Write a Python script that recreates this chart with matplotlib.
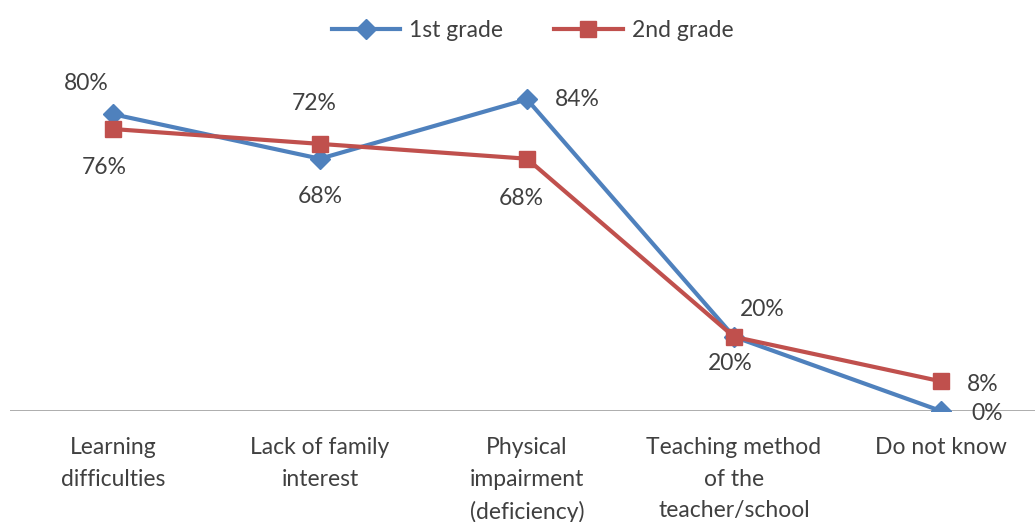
import matplotlib.pyplot as plt

# data
categories = ["Learning\ndifficulties", "Lack of family\ninterest", "Physical\nimpairment\n(deficiency)",
              "Teaching method\nof the\nteacher/school", "Do not know"]
grade1 = [80, 68, 84, 20, 0]
grade2 = [76, 72, 68, 20, 8]

plt.rcParams['font.family'] = ['Lato', 'DejaVu Sans']
txt = '#404040'

fig = plt.figure(figsize=(10.35, 5.22), dpi=100)
ax = fig.add_axes([9.5 / 1035, 111 / 522, 1025.5 / 1035, 371 / 522])

x = range(len(categories))
ax.plot(x, grade1, color='#4F81BD', lw=3, marker='D', ms=10, label='1st grade', zorder=3)
ax.plot(x, grade2, color='#C0504D', lw=3, marker='s', ms=12, label='2nd grade', zorder=3)

ax.set_xlim(-0.5, -0.5 + 1025.5 / 207)
ax.set_ylim(0, 100)
ax.axhline(0, color='#A0A0A0', lw=1.2, zorder=1)
for s in ax.spines.values():
    s.set_visible(False)
ax.set_yticks([])
ax.set_xticks(list(x))
ax.set_xticklabels(categories, fontsize=16.5, color=txt, linespacing=1.62)
ax.tick_params(axis='x', length=0, pad=19)

# data labels (offsets in points)
off1 = [(-19, 22), (0, -27), (36, 0), (-3, -19), (33, -2)]
off2 = [(-6, -28), (-4, 29), (-4, -29), (20, 20), (30, -2)]
for i in x:
    ax.annotate(f"{grade1[i]}%", (i, grade1[i]), xytext=off1[i], textcoords='offset points',
                ha='center', va='center', fontsize=16.5, color=txt)
    ax.annotate(f"{grade2[i]}%", (i, grade2[i]), xytext=off2[i], textcoords='offset points',
                ha='center', va='center', fontsize=16.5, color=txt)

ax.legend(loc='upper center', bbox_to_anchor=(0.51, 1.11), ncol=2, frameon=False,
          fontsize=16.5, labelcolor=txt, handlelength=3, columnspacing=2.2, handletextpad=0.4)

fig.savefig('out.png', dpi=100)
